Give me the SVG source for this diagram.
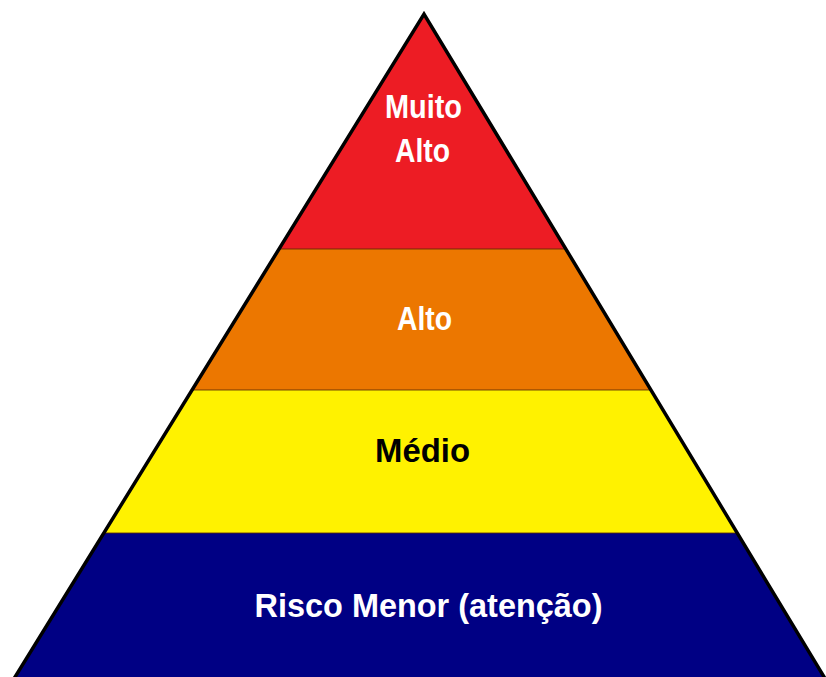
<svg xmlns="http://www.w3.org/2000/svg" width="826" height="677" viewBox="0 0 826 677">
<style>
.lbl{font-family:"Liberation Sans",Arial,sans-serif;font-weight:bold;font-size:33px;text-anchor:middle}
.w{fill:#ffffff}
.k{fill:#000000}
.sep{stroke:#5a2a00;stroke-opacity:0.55;stroke-width:1.5}
</style>
<rect width="826" height="677" fill="#ffffff"/>
<g id="band-muito-alto">
<polygon points="424,14 565.7,249 279,249" fill="#ED1C24"/>
<text class="lbl w" x="423.5" y="118" textLength="77" lengthAdjust="spacingAndGlyphs">Muito</text>
<text class="lbl w" x="422.5" y="162" textLength="55" lengthAdjust="spacingAndGlyphs">Alto</text>
</g>
<g id="band-alto">
<polygon points="279,249 565.7,249 650.7,390 192,390" fill="#EC7700"/>
<text class="lbl w" x="424.5" y="330" textLength="55" lengthAdjust="spacingAndGlyphs">Alto</text>
</g>
<g id="band-medio">
<polygon points="192,390 650.7,390 736.9,533 103.8,533" fill="#FFF200"/>
<text class="lbl k" x="422.5" y="462" textLength="95" lengthAdjust="spacingAndGlyphs">Médio</text>
</g>
<g id="band-risco-menor">
<polygon points="103.8,533 736.9,533 832,690 7,690" fill="#000084"/>
<text class="lbl w" x="428.5" y="617" font-size="35" textLength="348" lengthAdjust="spacingAndGlyphs">Risco Menor (atenção)</text>
</g>
<g id="connectors">
<line class="sep" x1="279" y1="249" x2="565.7" y2="249"/>
<line class="sep" x1="192" y1="390" x2="650.7" y2="390"/>
<line class="sep" x1="103.8" y1="533" x2="736.9" y2="533"/>
<polyline points="7,690 424,14 832,690" fill="none" stroke="#000000" stroke-width="3.5" stroke-linejoin="miter"/>
</g>
</svg>
